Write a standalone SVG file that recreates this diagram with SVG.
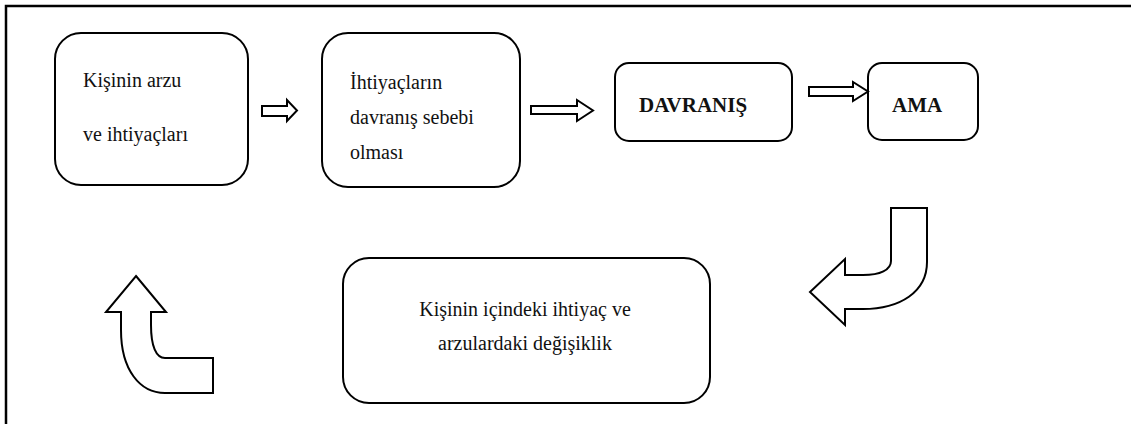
<svg xmlns="http://www.w3.org/2000/svg" width="1131" height="424" viewBox="0 0 1131 424">
<style>
.box{fill:#fff;stroke:#000;stroke-width:2}
.t{font-family:'Liberation Serif','Times New Roman',Times,serif;font-size:20px;fill:#111}
.b{font-family:'Liberation Serif','Times New Roman',Times,serif;font-size:21px;font-weight:bold;fill:#111}
.arr{fill:#fff;stroke:#000;stroke-width:2;stroke-linejoin:miter}
</style>
<rect width="1131" height="424" fill="#fff"/>
<path d="M6,424 V6 H1131" fill="none" stroke="#000" stroke-width="2.5"/>
<g id="node1">
<rect class="box" x="55" y="33" width="193" height="152" rx="26"/>
<text class="t" x="83" y="87">Kişinin arzu</text>
<text class="t" x="83" y="141">ve ihtiyaçları</text>
</g>
<g id="node2">
<rect class="box" x="322" y="33" width="198" height="154" rx="26"/>
<text class="t" x="350" y="89">İhtiyaçların</text>
<text class="t" x="350" y="124">davranış sebebi</text>
<text class="t" x="350" y="159">olması</text>
</g>
<g id="node3">
<rect class="box" x="615" y="63" width="177" height="78" rx="14"/>
<text class="b" x="639" y="112">DAVRANIŞ</text>
</g>
<g id="node4">
<rect class="box" x="868" y="63" width="110" height="77" rx="14"/>
<text class="b" x="892" y="112">AMA</text>
</g>
<g id="node5">
<rect class="box" x="343" y="258" width="367" height="145" rx="26"/>
<text class="t" x="525" y="316" text-anchor="middle">Kişinin içindeki ihtiyaç ve</text>
<text class="t" x="525" y="350" text-anchor="middle">arzulardaki değişiklik</text>
</g>
<g id="connectors">
<path class="arr" d="M262,106 H287 V100 L297,110.5 L287,121 V116 H262 Z"/>
<path class="arr" d="M531,106 H577 V100 L593,110.5 L577,121 V114 H531 Z"/>
<path class="arr" d="M809,87 H853 V82 L868,91.5 L853,101 V96 H809 Z"/>
<path class="arr" d="M891,208 H927 V262 C927,292 900,309 863,309 H845 V325 L810,292 L845,259 V275 H863 C880,275 891,270 891,261 Z"/>
<path class="arr" d="M136,276 L166,312 H151 V325 C151,346 156,358 165,358 H213 V393 H165 C140,393 121,370 121,330 V312 H106 Z"/>
</g>
</svg>
